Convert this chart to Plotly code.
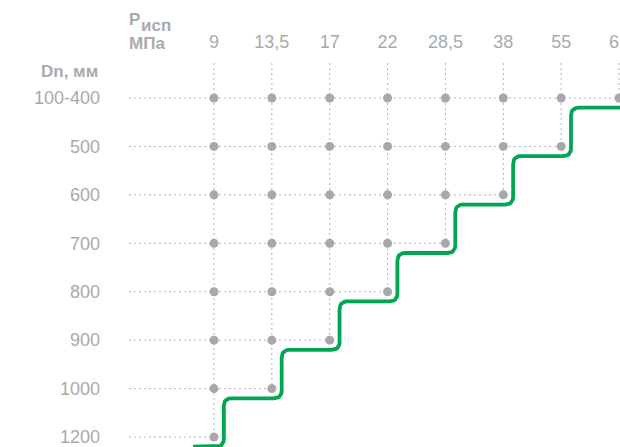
import numpy as np
import plotly.graph_objects as go

# ---- data ----
pressures = ["9", "13,5", "17", "22", "28,5", "38", "55", "63"]          # Рисп, МПа
diameters = ["100-400", "500", "600", "700", "800", "900", "1000", "1200"]  # Dn, мм
max_pressure_idx = [7, 6, 5, 4, 3, 2, 1, 0]   # highest test pressure index available per diameter row

# ---- style ----
GRAY_TXT = "#a8aaad"
GRAY_DOT = "#a7a8ab"
GRAY_LINE = "#b3b3b3"
GREEN = "#00a651"
FONT = "Liberation Sans, Arial, sans-serif"

W, H = 620, 447
ML, MT = 129, 63
PW, PH = W - ML, H - MT

X_RANGE = [-1.469, 7.017]
Y_RANGE = [7.206, -0.7227]
SX, SY = 57.86, 48.43  # px per unit (for corner rounding)


def px_x(px):
    return (px - ML) / PW


def px_y(py):
    return 1 - (py - MT) / PH


fig = go.Figure()

n_rows = len(diameters)
n_cols = len(pressures)

# horizontal dotted lines (row r: from left edge to its last dot)
for r in range(n_rows):
    xend = max_pressure_idx[r] if max_pressure_idx[r] < n_cols - 1 else X_RANGE[1] + 0.5
    fig.add_trace(go.Scatter(x=[X_RANGE[0], xend], y=[r, r], mode="lines",
                             line=dict(color=GRAY_LINE, width=1, dash="2px,3px"),
                             hoverinfo="skip", showlegend=False))
# vertical dotted lines (column c: from top to its lowest dot)
for c in range(n_cols):
    rows_with = [r for r in range(n_rows) if max_pressure_idx[r] >= c]
    fig.add_trace(go.Scatter(x=[c, c], y=[Y_RANGE[1], max(rows_with)], mode="lines",
                             line=dict(color=GRAY_LINE, width=1, dash="2px,3px"),
                             hoverinfo="skip", showlegend=False))

# dots
dx, dy = [], []
for r in range(n_rows):
    for c in range(max_pressure_idx[r] + 1):
        dx.append(c)
        dy.append(r)
fig.add_trace(go.Scatter(x=dx, y=dy, mode="markers",
                         marker=dict(color=GRAY_DOT, size=9),
                         hoverinfo="skip", showlegend=False))

# green boundary staircase
OFF_X, OFF_Y = 0.17, 0.2
verts = [(-0.36, n_rows - 1 + OFF_Y)]
for r in range(n_rows - 1, 0, -1):
    c = max_pressure_idx[r]
    verts.append((c + OFF_X, r + OFF_Y))
    verts.append((c + OFF_X, r - 1 + OFF_Y))
verts.append((X_RANGE[1] + 0.6, OFF_Y))


def rounded(vs, rad=8.0, n=10):
    P = np.array([[x * SX, y * SY] for x, y in vs])
    out = [P[0]]
    for i in range(1, len(P) - 1):
        a, p, b = P[i - 1], P[i], P[i + 1]
        d1 = (p - a) / np.linalg.norm(p - a)
        d2 = (b - p) / np.linalg.norm(b - p)
        s = p - d1 * rad
        e = p + d2 * rad
        for t in np.linspace(0, 1, n):
            out.append((1 - t) ** 2 * s + 2 * (1 - t) * t * p + t ** 2 * e)
    out.append(P[-1])
    out = np.array(out)
    return out[:, 0] / SX, out[:, 1] / SY


gx, gy = rounded(verts)
fig.add_trace(go.Scatter(x=gx, y=gy, mode="lines",
                         line=dict(color=GREEN, width=3.8),
                         hoverinfo="skip", showlegend=False))

hdr_font = dict(size=17, color=GRAY_TXT, family=FONT)


def ann(text, px, py, xanchor="left"):
    return dict(text=text, xref="paper", yref="paper", x=px_x(px), y=px_y(py),
                xanchor=xanchor, yanchor="middle", showarrow=False, font=hdr_font)


fig.update_layout(
    width=W, height=H,
    margin=dict(l=ML, r=0, t=MT, b=0),
    paper_bgcolor="white", plot_bgcolor="white",
    font=dict(family=FONT, color=GRAY_TXT, size=18),
    xaxis=dict(range=X_RANGE, side="top", tickvals=list(range(n_cols)), ticktext=pressures,
               showgrid=False, zeroline=False, showline=False, ticks="", automargin=False,
               ticklabeloverflow="allow",
               ticklabelstandoff=10, tickfont=dict(size=18, color=GRAY_TXT)),
    yaxis=dict(range=Y_RANGE, tickvals=list(range(n_rows)), ticktext=diameters,
               showgrid=False, zeroline=False, showline=False, ticks="", automargin=False,
               ticklabeloverflow="allow",
               ticklabelstandoff=28, tickfont=dict(size=18, color=GRAY_TXT)),
    annotations=[
        ann("<b>Р</b>", 127, 20),
        ann("<b>исп</b>", 139, 26),
        ann("<b>МПа</b>", 127, 43),
        ann("<b>Dn, мм</b>", 100, 71, xanchor="right"),
    ],
)

fig.write_html("out.html", config={"displayModeBar": False},
               post_script="document.body.style.margin='0';document.body.style.overflow='hidden';")
